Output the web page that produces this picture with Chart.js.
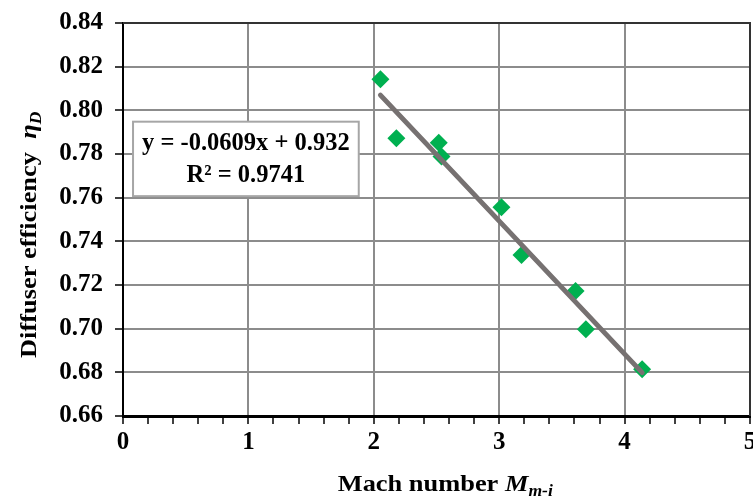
<!DOCTYPE html>
<html><head><meta charset="utf-8">
<script src="https://cdn.jsdelivr.net/npm/chart.js@4.4.0/dist/chart.umd.min.js"></script>
<style>html,body{margin:0;padding:0;background:#fff;overflow:hidden}#wrap{width:753px;height:497px;position:relative;overflow:hidden}</style>
</head><body><div id="wrap"><canvas id="c" width="759" height="497"></canvas></div>
<script>
// ---- data ----
const machNumbers = [2.053, 2.180, 2.518, 2.540, 3.018, 3.178, 3.609, 3.691, 4.140];
const diffuserEfficiency = [0.8142, 0.7872, 0.7852, 0.7788, 0.7556, 0.7337, 0.7172, 0.6997, 0.6814];
const trendSlope = -0.0609;
const trendIntercept = 0.932;
const equationLines = ['y = -0.0609x + 0.932', 'R² = 0.9741'];
const xTitleRuns = [['Mach number ', 'n'], ['M', 'i'], ['m-i', 'is']];
const yTitleRuns = [['Diffuser efficiency  ', 'n'], ['η', 'i'], ['D', 'is']];

const SERIF = "'Liberation Serif', 'Times New Roman', serif";
const points = machNumbers.map((x, i) => ({x, y: diffuserEfficiency[i]}));
const xMin = Math.min(...machNumbers), xMax = Math.max(...machNumbers);
const trend = [xMin, xMax].map(x => ({x, y: trendSlope * x + trendIntercept}));
const isInt = v => Math.abs(v - Math.round(v)) < 1e-6;

function drawRuns(ctx, runs, size, cx, cy, stretch) {
  const fonts = runs.map(r => {
    const sub = r[1] === 'is';
    const sz = sub ? Math.round(size * 0.68) : size;
    return {font: (r[1] === 'n' ? '' : 'italic ') + 'bold ' + sz + 'px ' + SERIF, dy: sub ? size * 0.3 : 0};
  });
  let total = 0;
  const widths = runs.map((r, i) => { ctx.font = fonts[i].font; const w = ctx.measureText(r[0]).width; total += w; return w; });
  ctx.save();
  ctx.translate(cx, cy);
  ctx.scale(stretch, 1);
  let x = -total / 2;
  ctx.textBaseline = 'middle'; ctx.textAlign = 'left'; ctx.fillStyle = '#000';
  runs.forEach((r, i) => { ctx.font = fonts[i].font; ctx.fillText(r[0], x, fonts[i].dy); x += widths[i]; });
  ctx.restore();
}

const decor = {
  id: 'decor',
  afterDatasetsDraw(chart) {
    const {ctx, chartArea: a, scales: {x, y}} = chart;
    ctx.save();
    // plot frame top/right
    ctx.strokeStyle = '#333'; ctx.lineWidth = 2;
    ctx.beginPath(); ctx.moveTo(a.left, a.top); ctx.lineTo(a.right, a.top); ctx.lineTo(a.right, a.bottom); ctx.stroke();
    // equation box
    const bx1 = x.getPixelForValue(0.08), bx2 = x.getPixelForValue(1.88);
    const by1 = y.getPixelForValue(0.7948), by2 = y.getPixelForValue(0.7607);
    ctx.fillStyle = '#fff'; ctx.fillRect(bx1, by1, bx2 - bx1, by2 - by1);
    ctx.strokeStyle = '#a6a6a6'; ctx.lineWidth = 2; ctx.strokeRect(bx1, by1, bx2 - bx1, by2 - by1);
    ctx.fillStyle = '#000'; ctx.font = 'bold 24.5px ' + SERIF; ctx.textAlign = 'center'; ctx.textBaseline = 'middle';
    const cx = (bx1 + bx2) / 2, h = by2 - by1;
    ctx.fillText(equationLines[0], cx, by1 + h * 0.29);
    ctx.fillText(equationLines[1], cx, by1 + h * 0.72);
    // axis titles
    drawRuns(ctx, xTitleRuns, 24, a.left + (a.right - a.left) * 0.514, 485, 1.1);
    ctx.translate(30, a.top + (a.bottom - a.top) * 0.539);
    ctx.rotate(-Math.PI / 2);
    drawRuns(ctx, yTitleRuns, 24, 0, 0, 1.1);
    ctx.restore();
  }
};

new Chart(document.getElementById('c'), {
  type: 'scatter',
  data: {
    datasets: [
      {type: 'line', data: trend, borderColor: '#767171', borderWidth: 5, borderCapStyle: 'round', pointRadius: 0, fill: false, order: 0},
      {data: points, pointStyle: 'rectRot', pointRadius: 9, pointHoverRadius: 9, backgroundColor: '#00B050', borderColor: '#00B050', borderWidth: 0, order: 1}
    ]
  },
  options: {
    responsive: false, devicePixelRatio: 1, animation: false,
    layout: {padding: {left: 0, top: 23, right: 3, bottom: 0}},
    plugins: {legend: {display: false}, tooltip: {enabled: false}},
    scales: {
      x: {
        type: 'linear', min: 0, max: 5,
        ticks: {stepSize: 0.2, autoSkip: false, maxRotation: 0, padding: 4, color: '#000',
          font: {family: SERIF, size: 25, weight: 'bold'},
          callback: v => isInt(v) ? String(Math.round(v)) : ''},
        grid: {color: c => (c.tick && isInt(c.tick.value)) ? '#8c8c8c' : 'rgba(0,0,0,0)', lineWidth: 2,
          tickColor: '#000', tickLength: 8, tickWidth: 1.5},
        border: {color: '#000', width: 3},
        afterFit: s => { s.height = 81; s.paddingLeft = 0; s.paddingRight = 0; }
      },
      y: {
        min: 0.66, max: 0.84,
        ticks: {stepSize: 0.02, padding: 12, color: '#000', font: {family: SERIF, size: 25, weight: 'bold'},
          callback: v => v.toFixed(2)},
        grid: {color: '#8c8c8c', lineWidth: 2, tickColor: '#000', tickLength: 8, tickWidth: 1.5},
        border: {color: '#000', width: 2},
        afterFit: s => { s.width = 123; s.paddingTop = 0; s.paddingBottom = 0; }
      }
    }
  },
  plugins: [decor]
});
</script></body></html>
